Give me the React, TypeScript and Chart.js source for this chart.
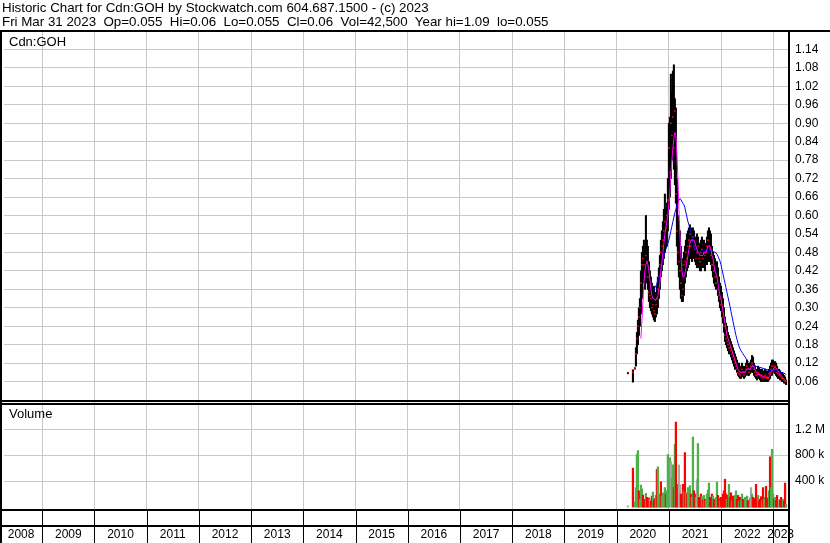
import React, { useEffect, useRef } from "react";
import { Chart, registerables } from "chart.js";

Chart.register(...registerables);

const FONT = '"Liberation Sans", Arial, Helvetica, sans-serif';

const headerLine1 = "Historic Chart for Cdn:GOH by Stockwatch.com 604.687.1500 - (c) 2023";
const headerLine2 = "Fri Mar 31 2023  Op=0.055  Hi=0.06  Lo=0.055  Cl=0.06  Vol=42,500  Year hi=1.09  lo=0.055";
const symbolLabel = "Cdn:GOH";
const volumeLabel = "Volume";

// axis range (decimal years) and ticks
const xMin = 2008.2685;
const xMax = 2023.2808;
const yearGrid = [2009, 2010, 2011, 2012, 2013, 2014, 2015, 2016, 2017, 2018, 2019, 2020, 2021, 2022, 2023];
const yearLabels = [2008, 2009, 2010, 2011, 2012, 2013, 2014, 2015, 2016, 2017, 2018, 2019, 2020, 2021, 2022, 2023];
const priceTicks = [0.06, 0.12, 0.18, 0.24, 0.3, 0.36, 0.42, 0.48, 0.54, 0.6, 0.66, 0.72, 0.78, 0.84, 0.9, 0.96, 1.02, 1.08, 1.14];
const priceMin = 0;
const priceMax = 1.2;
const volumeTicks = [400000, 800000, 1200000];
const volumeTickLabels = ["400 k", "800 k", "1.2 M"];
const volumeMin = -30000;
const volumeMax = 1650000;

// weekly bars, first week starting
const firstWeek = "2020-03-20";

const high = [
  0.09, null, null, null, null, 0.098, null, 0.105, 0.17, 0.22,
  0.26, 0.30, 0.33, 0.42, 0.48, 0.50, 0.52, 0.49, 0.60, 0.52,
  0.50, 0.45, 0.42, 0.40, 0.38, 0.36, 0.37, 0.34, 0.35, 0.37,
  0.40, 0.43, 0.47, 0.52, 0.55, 0.58, 0.62, 0.67, 0.62, 0.64,
  0.72, 0.90, 0.92, 1.06, 1.00, 1.07, 1.09, 0.98, 0.95, 0.72,
  0.60, 0.58, 0.55, 0.50, 0.46, 0.42, 0.48, 0.50, 0.52, 0.54,
  0.55, 0.56, 0.57, 0.56, 0.55, 0.56, 0.55, 0.53, 0.52, 0.54,
  0.53, 0.51, 0.50, 0.52, 0.53, 0.50, 0.52, 0.50, 0.51, 0.53,
  0.55, 0.56, 0.55, 0.54, 0.50, 0.48, 0.47, 0.46, 0.44, 0.45,
  0.43, 0.40, 0.38, 0.37, 0.35, 0.33, 0.30, 0.27, 0.25, 0.24,
  0.22, 0.21, 0.20, 0.19, 0.18, 0.17, 0.16, 0.15, 0.14, 0.13,
  0.12, 0.12, 0.11, 0.11, 0.12, 0.11, 0.10, 0.11, 0.12, 0.13,
  0.12, 0.11, 0.12, 0.13, 0.145, 0.14, 0.12, 0.11, 0.10, 0.10,
  0.11, 0.105, 0.10, 0.095, 0.10, 0.09, 0.095, 0.10, 0.09, 0.095,
  0.09, 0.10, 0.11, 0.12, 0.13, 0.13, 0.12, 0.125, 0.12, 0.11,
  0.10, 0.10, 0.095, 0.09, 0.09, 0.085, 0.08, 0.075, 0.065,
];

const low = [
  0.085, null, null, null, null, 0.058, null, 0.10, 0.11, 0.15,
  0.18, 0.21, 0.24, 0.28, 0.33, 0.38, 0.40, 0.36, 0.38, 0.40,
  0.36, 0.32, 0.30, 0.29, 0.28, 0.27, 0.26, 0.255, 0.27, 0.28,
  0.30, 0.33, 0.36, 0.40, 0.42, 0.44, 0.46, 0.48, 0.50, 0.50,
  0.55, 0.62, 0.66, 0.72, 0.78, 0.80, 0.75, 0.70, 0.64, 0.50,
  0.44, 0.40, 0.36, 0.33, 0.32, 0.32, 0.34, 0.38, 0.40, 0.42,
  0.43, 0.44, 0.46, 0.46, 0.45, 0.47, 0.46, 0.45, 0.44, 0.43,
  0.45, 0.43, 0.42, 0.42, 0.44, 0.43, 0.44, 0.42, 0.44, 0.44,
  0.45, 0.46, 0.45, 0.44, 0.42, 0.40, 0.38, 0.37, 0.36, 0.36,
  0.34, 0.32, 0.30, 0.29, 0.27, 0.25, 0.22, 0.19, 0.18, 0.17,
  0.16, 0.15, 0.15, 0.14, 0.13, 0.12, 0.11, 0.10, 0.10, 0.09,
  0.08, 0.075, 0.07, 0.07, 0.08, 0.075, 0.07, 0.075, 0.08, 0.085,
  0.08, 0.08, 0.085, 0.09, 0.09, 0.09, 0.08, 0.075, 0.07, 0.065,
  0.07, 0.07, 0.065, 0.06, 0.065, 0.06, 0.06, 0.065, 0.06, 0.06,
  0.06, 0.065, 0.07, 0.08, 0.08, 0.09, 0.09, 0.085, 0.08, 0.075,
  0.07, 0.07, 0.065, 0.065, 0.06, 0.06, 0.055, 0.055, 0.05,
];

const close = [
  0.088, null, null, null, null, 0.09, null, 0.103, 0.15, 0.20,
  0.24, 0.27, 0.30, 0.38, 0.44, 0.46, 0.44, 0.40, 0.47, 0.45,
  0.40, 0.35, 0.34, 0.33, 0.30, 0.31, 0.29, 0.28, 0.31, 0.33,
  0.36, 0.40, 0.44, 0.48, 0.50, 0.52, 0.55, 0.58, 0.56, 0.60,
  0.65, 0.82, 0.74, 0.90, 0.86, 0.92, 0.82, 0.94, 0.67, 0.55,
  0.48, 0.45, 0.42, 0.38, 0.34, 0.36, 0.44, 0.45, 0.48, 0.46,
  0.50, 0.52, 0.54, 0.50, 0.52, 0.53, 0.50, 0.49, 0.46, 0.48,
  0.50, 0.46, 0.45, 0.48, 0.49, 0.46, 0.48, 0.47, 0.48, 0.50,
  0.52, 0.50, 0.49, 0.47, 0.44, 0.44, 0.42, 0.40, 0.38, 0.40,
  0.36, 0.34, 0.33, 0.31, 0.29, 0.27, 0.24, 0.21, 0.20, 0.19,
  0.18, 0.17, 0.17, 0.16, 0.15, 0.14, 0.13, 0.12, 0.11, 0.10,
  0.09, 0.085, 0.08, 0.09, 0.10, 0.09, 0.08, 0.09, 0.10, 0.11,
  0.10, 0.09, 0.10, 0.11, 0.12, 0.11, 0.10, 0.09, 0.08, 0.08,
  0.09, 0.085, 0.08, 0.075, 0.08, 0.07, 0.075, 0.08, 0.07, 0.075,
  0.07, 0.085, 0.09, 0.10, 0.11, 0.11, 0.10, 0.11, 0.10, 0.09,
  0.085, 0.08, 0.08, 0.075, 0.07, 0.07, 0.065, 0.06, 0.06,
];

// short moving average (magenta)
const maFast = [
  null, null, null, null, null, null, null, null, null, null,
  null, null, null, 0.20, 0.26, 0.32, 0.38, 0.42, 0.44, 0.45,
  0.44, 0.42, 0.39, 0.36, 0.34, 0.33, 0.33, 0.325, 0.325, 0.33,
  0.34, 0.36, 0.38, 0.42, 0.45, 0.48, 0.51, 0.54, 0.56, 0.58,
  0.60, 0.64, 0.68, 0.74, 0.78, 0.82, 0.85, 0.87, 0.86, 0.80,
  0.72, 0.62, 0.54, 0.47, 0.42, 0.40, 0.40, 0.41, 0.43, 0.45,
  0.47, 0.49, 0.51, 0.52, 0.52, 0.52, 0.52, 0.51, 0.50, 0.49,
  0.48, 0.48, 0.47, 0.47, 0.47, 0.47, 0.48, 0.48, 0.48, 0.49,
  0.50, 0.50, 0.50, 0.49, 0.47, 0.46, 0.44, 0.42, 0.41, 0.40,
  0.38, 0.36, 0.34, 0.33, 0.31, 0.29, 0.27, 0.25, 0.23, 0.21,
  0.20, 0.19, 0.18, 0.17, 0.16, 0.15, 0.14, 0.13, 0.12, 0.11,
  0.10, 0.095, 0.09, 0.088, 0.09, 0.092, 0.09, 0.09, 0.095, 0.10,
  0.102, 0.10, 0.10, 0.105, 0.11, 0.112, 0.108, 0.10, 0.092, 0.085,
  0.083, 0.083, 0.082, 0.08, 0.078, 0.076, 0.075, 0.075, 0.074, 0.073,
  0.072, 0.075, 0.08, 0.088, 0.095, 0.10, 0.105, 0.106, 0.104, 0.10,
  0.095, 0.09, 0.085, 0.08, 0.076, 0.072, 0.068, 0.065, 0.062,
];

// long moving average (blue)
const maSlow = [
  null, null, null, null, null, null, null, null, null, null,
  null, null, null, null, null, null, null, null, null, null,
  null, null, null, null, null, 0.355, 0.36, 0.365, 0.37, 0.38,
  0.39, 0.40, 0.41, 0.425, 0.44, 0.455, 0.468, 0.48, 0.49, 0.50,
  0.51, 0.52, 0.535, 0.55, 0.565, 0.58, 0.595, 0.61, 0.62, 0.632,
  0.642, 0.65, 0.655, 0.652, 0.645, 0.64, 0.635, 0.625, 0.61, 0.595,
  0.58, 0.57, 0.56, 0.545, 0.53, 0.515, 0.50, 0.49, 0.485, 0.48,
  0.478, 0.478, 0.48, 0.482, 0.484, 0.485, 0.486, 0.487, 0.487, 0.488,
  0.488, 0.488, 0.487, 0.486, 0.485, 0.483, 0.482, 0.48, 0.478, 0.474,
  0.468, 0.46, 0.452, 0.44, 0.425, 0.41, 0.395, 0.38, 0.365, 0.35,
  0.335, 0.32, 0.305, 0.288, 0.272, 0.256, 0.24, 0.225, 0.21, 0.197,
  0.185, 0.175, 0.167, 0.16, 0.155, 0.15, 0.145, 0.14, 0.135, 0.13,
  0.126, 0.122, 0.119, 0.117, 0.115, 0.113, 0.112, 0.111, 0.11, 0.109,
  0.108, 0.107, 0.106, 0.105, 0.104, 0.103, 0.102, 0.101, 0.10, 0.099,
  0.098, 0.097, 0.096, 0.095, 0.095, 0.095, 0.095, 0.095, 0.095, 0.094,
  0.093, 0.092, 0.091, 0.09, 0.089, 0.088, 0.087, 0.085, 0.083,
];

// weekly volume in thousands of shares
const volumeK = [
  20, null, null, null, null, 600, null, 80, 300, 810,
  870, 250, 120, 340, 280, 185, 120, 90, 210, 150,
  100, 140, 120, 90, 170, 230, 100, 130, 180, 580,
  620, 200, 150, 390, 160, 220, 130, 300, 200, 250,
  810, 500, 760, 700, 450, 650, 300, 965, 1310, 350,
  240, 650, 340, 200, 180, 350, 250, 840, 220, 200,
  300, 280, 330, 200, 150, 1080, 250, 200, 150, 420,
  980, 150, 130, 200, 160, 110, 180, 120, 100, 200,
  260, 370, 150, 120, 200, 170, 120, 100, 150, 385,
  180, 130, 100, 150, 120, 200, 250, 430, 200, 120,
  180, 350, 150, 220, 100, 170, 140, 180, 250, 120,
  180, 90, 150, 100, 200, 120, 80, 150, 110, 170,
  100, 80, 140, 300, 200, 150, 130, 100, 350, 90,
  180, 100, 120, 160, 100, 300, 120, 150, 320, 100,
  140, 250, 775, 300, 890, 200, 120, 150, 100, 180,
  80, 120, 100, 150, 60, 120, 90, 370, 40,
];

// volume bar colour per week: g = up, r = down, n = unchanged, - = no trade
const volumeDir =
  "n----r-ggg" + "grgggrrrgr" + "rrnrrgrrgr" + "gggrggggrg" + "gggnggrgrr" +
  "rnnrrrgrgr" + "gggrggrrgn" + "grrrgrgrgg" + "ggrrrgrrgg" + "rrgrrrrrrg" +
  "rgrrgrrggr" + "rgrggrrggg" + "rrgngrrrrr" + "grrrgrggrr" + "rgrgggrgrr" +
  "rnrrrgrrg";

const dirColor: Record<string, string> = { g: "#4cb04c", r: "#ff0000", n: "#a8a8a8", "-": "#a8a8a8" };

function decimalYear(ms: number): number {
  const d = new Date(ms);
  const y = d.getUTCFullYear();
  const s = Date.UTC(y, 0, 1);
  const e = Date.UTC(y + 1, 0, 1);
  return y + (ms - s) / (e - s);
}

const startMs = Date.parse(firstWeek + "T00:00:00Z");
const weekTimes = close.map((_, i) => decimalYear(startMs + i * 7 * 86400000));

function points(values: (number | null)[]) {
  const out: { x: number; y: number }[] = [];
  values.forEach((v, i) => {
    if (v != null) out.push({ x: weekTimes[i], y: v });
  });
  return out;
}

const framePlugin = {
  id: "stockFrame",
  afterDraw(chart: any) {
    const { ctx, chartArea: a, scales } = chart;
    const W = chart.width;
    const H = chart.height;
    const xs = scales.x;
    const split = scales.y.bottom;
    ctx.save();
    ctx.fillStyle = "#000";
    // year labels in bottom strip
    ctx.font = `12px ${FONT}`;
    ctx.textAlign = "center";
    ctx.textBaseline = "alphabetic";
    for (const yr of yearLabels) {
      const l = Math.max(xs.getPixelForValue(yr), 0);
      const r = Math.min(xs.getPixelForValue(yr + 1), a.right);
      ctx.fillText(String(yr), (l + r) / 2, H - 5);
    }
    // frame lines
    ctx.fillRect(0, a.top - 1, W, 2);
    ctx.fillRect(0, a.top - 1, 2, H - a.top + 1);
    ctx.fillRect(a.right, a.top - 1, 2, H - a.top + 1);
    ctx.fillRect(0, split, a.right, 2);
    ctx.fillRect(0, split + 3, a.right, 2);
    ctx.fillRect(0, a.bottom, a.right, 2);
    ctx.fillRect(0, a.bottom + 16, a.right, 2);
    for (const yr of yearGrid) {
      const px = Math.round(xs.getPixelForValue(yr));
      ctx.fillRect(px, a.bottom, 1, H - a.bottom);
    }
    // panel captions
    ctx.font = `13px ${FONT}`;
    ctx.textAlign = "left";
    ctx.fillText(symbolLabel, 9, a.top + 15);
    ctx.fillText(volumeLabel, 9, split + 18);
    ctx.restore();
  },
};

export default function App() {
  const canvasRef = useRef<HTMLCanvasElement | null>(null);

  useEffect(() => {
    document.body.style.margin = "0";
    const canvas = canvasRef.current;
    if (!canvas) return;

    const priceBars: any[] = [];
    high.forEach((h, i) => {
      if (h != null && low[i] != null) priceBars.push({ x: weekTimes[i], y: [low[i], h] });
    });
    const volBars: any[] = [];
    const volColors: string[] = [];
    volumeK.forEach((v, i) => {
      if (v != null) {
        volBars.push({ x: weekTimes[i], y: v * 1000 });
        volColors.push(dirColor[volumeDir[i]] || "#a8a8a8");
      }
    });

    const chart = new Chart(canvas, {
      type: "bar",
      data: {
        datasets: [
          {
            type: "line",
            label: "MA short",
            data: points(maFast),
            borderColor: "#ff00ff",
            borderWidth: 1,
            pointRadius: 0,
            tension: 0,
            yAxisID: "y",
            order: 0,
          } as any,
          {
            type: "line",
            label: "MA long",
            data: points(maSlow),
            borderColor: "#0000ff",
            borderWidth: 1,
            pointRadius: 0,
            tension: 0,
            yAxisID: "y",
            order: 1,
          } as any,
          {
            type: "scatter",
            label: "Close",
            data: points(close),
            backgroundColor: "#ff0000",
            borderWidth: 0,
            pointStyle: "rect",
            pointRadius: 1.1,
            yAxisID: "y",
            order: 2,
          } as any,
          {
            type: "bar",
            label: "Range",
            data: priceBars,
            backgroundColor: "#000000",
            barThickness: 1.4,
            grouped: false,
            yAxisID: "y",
            order: 3,
          } as any,
          {
            type: "bar",
            label: "Volume",
            data: volBars,
            backgroundColor: volColors,
            barThickness: 1.6,
            grouped: false,
            yAxisID: "yv",
            order: 4,
          } as any,
        ],
      },
      options: {
        responsive: false,
        devicePixelRatio: 1,
        animation: false,
        events: [],
        layout: { padding: { left: 2, top: 31, right: 0, bottom: 0 } },
        plugins: { legend: { display: false }, tooltip: { enabled: false }, title: { display: false } },
        scales: {
          x: {
            type: "linear",
            min: xMin,
            max: xMax,
            offset: false,
            grid: { color: "#c8c8c8", lineWidth: 1, drawTicks: false, offset: false },
            border: { display: false },
            ticks: { display: false },
            afterBuildTicks: (s: any) => {
              s.ticks = yearGrid.map((v) => ({ value: v }));
            },
            afterFit: (s: any) => {
              s.height = 34;
            },
          },
          y: {
            type: "linear",
            position: "right",
            stack: "panels",
            stackWeight: 369,
            min: priceMin,
            max: priceMax,
            grid: { color: "#c8c8c8", lineWidth: 1, drawTicks: false },
            border: { display: false },
            ticks: {
              autoSkip: false,
              padding: 7,
              color: "#000",
              font: { family: FONT, size: 12 },
              callback: (v: any) => Number(v).toFixed(2),
            },
            afterBuildTicks: (s: any) => {
              s.ticks = priceTicks.map((v) => ({ value: v }));
            },
            afterFit: (s: any) => {
              s.width = 42;
            },
          },
          yv: {
            type: "linear",
            position: "right",
            stack: "panels",
            stackWeight: 109,
            min: volumeMin,
            max: volumeMax,
            grid: { color: "#c8c8c8", lineWidth: 1, drawTicks: false },
            border: { display: false },
            ticks: {
              autoSkip: false,
              padding: 7,
              color: "#000",
              font: { family: FONT, size: 12 },
              callback: (v: any) => {
                const k = volumeTicks.indexOf(Number(v));
                return k >= 0 ? volumeTickLabels[k] : "";
              },
            },
            afterBuildTicks: (s: any) => {
              s.ticks = volumeTicks.map((v) => ({ value: v }));
            },
            afterFit: (s: any) => {
              s.width = 42;
            },
          },
        } as any,
      },
      plugins: [framePlugin],
    });

    return () => chart.destroy();
  }, []);

  return (
    <div style={{ position: "relative", width: 830, height: 543, overflow: "hidden", background: "#fff" }}>
      <canvas ref={canvasRef} width={830} height={543} style={{ display: "block", position: "absolute", left: 0, top: 0 }} />
      <div
        style={{
          position: "absolute",
          left: 2,
          top: 1,
          font: `13.33px ${FONT}`,
          lineHeight: "13.5px",
          whiteSpace: "pre",
          color: "#000",
        }}
      >
        <div>{headerLine1}</div>
        <div>{headerLine2}</div>
      </div>
    </div>
  );
}
